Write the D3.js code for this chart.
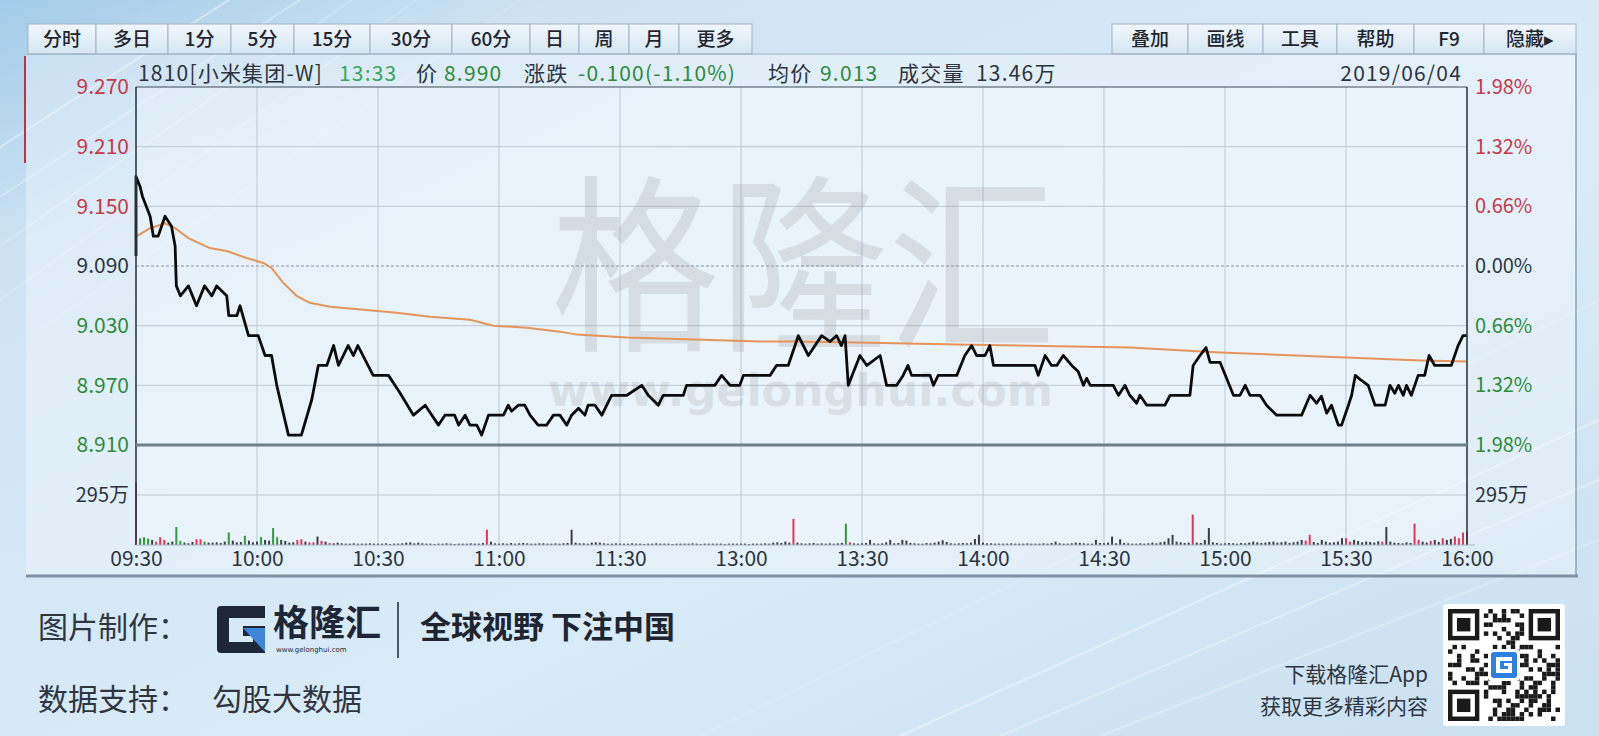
<!DOCTYPE html>
<html><head><meta charset="utf-8">
<script src="https://cdn.jsdelivr.net/npm/d3@7/dist/d3.min.js"></script>
<style>html,body{margin:0;padding:0;overflow:hidden;background:#d6e8f4}svg{display:block}</style>
</head><body><svg id="c" width="1599" height="736"></svg>
<script>
// ---------------- DATA ----------------
const prevClose = 9.09;
const priceTicks = [9.27, 9.21, 9.15, 9.09, 9.03, 8.97, 8.91];
const pctLabels = ["1.98%","1.32%","0.66%","0.00%","0.66%","1.32%","1.98%"];
const timeLabels = ["09:30","10:00","10:30","11:00","11:30","13:00","13:30","14:00","14:30","15:00","15:30","16:00"];
const timeTickMinutes = [0,30,60,90,120,150,180,210,240,270,300,330];
const volTicks = [295];
const leftButtons = ["分时","多日","1分","5分","15分","30分","60分","日","周","月","更多"];
const rightButtons = ["叠加","画线","工具","帮助","F9","隐藏▸"];

// minute index (0 = 09:30, 330 = 16:00, lunch removed) and price
const priceMinutes = [0,0,1,1.6,3.5,4.3,5.5,7.2,8.8,9.7,10,11,13,15,17,18.8,20,22.5,23,25,25.8,27.9,30.3,32,33.6,34.9,37.8,41,43.6,45.2,47.3,49,50.2,52.6,53.9,55,58.8,62.6,65.5,68.8,71.7,75,76.6,79,80,81.6,82.8,84.5,85.7,87.4,91.1,92.3,93.1,94.8,96.4,97.7,99.7,101.8,103.5,105.1,106.8,108,109.7,111.3,112.1,113.8,115.5,117.9,121.7,125.4,127,129.5,130.7,135.7,136.5,143.5,145.2,147.3,149.7,150.6,157.2,158.8,161.7,163.4,164.2,166.7,170,172.1,173.7,174.9,175.8,176.6,179.5,181.2,184.5,186.1,188.6,190.2,191.4,192.3,196.9,197.7,198.9,203.5,205.5,207.2,208.4,210.5,211.7,212.6,222.9,223.7,225.4,227,228.3,229.9,232,233.6,234.9,235.7,236.6,242.3,243.6,245.2,246.4,248.1,248.9,250.6,255.1,256.4,261.3,262.1,263.8,265.3,266.3,268.8,272.1,273.7,275,276.2,278.7,280.3,282.8,289,291.1,292.7,293.9,295.2,296.4,298.1,298.9,300.6,301.4,302.3,303.5,305.5,307.2,309.7,310.9,312.1,313,314.2,315,316.2,317.9,319.5,320.6,322,326.1,327.8,329,330];
const priceValues = [9.10,9.18,9.17,9.16,9.14,9.12,9.12,9.14,9.13,9.11,9.07,9.06,9.07,9.05,9.07,9.06,9.07,9.06,9.04,9.04,9.05,9.02,9.02,9.00,9.00,8.97,8.92,8.92,8.956,8.99,8.99,9.01,8.99,9.01,9.00,9.01,8.98,8.98,8.962,8.94,8.95,8.93,8.94,8.94,8.93,8.94,8.93,8.93,8.92,8.94,8.94,8.95,8.944,8.95,8.95,8.94,8.93,8.93,8.94,8.94,8.93,8.94,8.947,8.94,8.95,8.95,8.94,8.96,8.96,8.97,8.96,8.95,8.96,8.96,8.97,8.97,8.98,8.97,8.97,8.98,8.98,8.99,8.99,9.01,9.02,9.00,9.02,9.014,9.02,9.01,9.02,8.97,9.00,8.99,9.00,8.97,8.97,8.98,8.99,8.98,8.98,8.97,8.98,8.98,9.00,9.01,9.00,9.00,9.01,8.99,8.99,8.98,9.00,8.99,8.99,9.00,8.99,8.984,8.97,8.977,8.97,8.97,8.96,8.97,8.96,8.952,8.96,8.95,8.95,8.96,8.96,8.99,9.00,9.008,8.993,8.993,8.96,8.96,8.97,8.96,8.96,8.95,8.94,8.94,8.96,8.952,8.959,8.942,8.95,8.93,8.93,8.95,8.96,8.98,8.976,8.97,8.95,8.95,8.97,8.962,8.97,8.96,8.97,8.96,8.98,8.98,9.00,8.99,8.99,9.01,9.02,9.02];

const avgMinutes = [0.2,3.5,7.2,9.7,13,18.3,22.5,27.4,31.6,33.6,36.5,39.8,43.1,48.1,56.4,64.6,72.9,82.8,88.6,96.9,105.1,109.3,121.7,138.2,154.7,163,178.7,203.5,246.4,268.8,293.6,318.6,330];
const avgValues = [9.120,9.128,9.133,9.128,9.118,9.108,9.105,9.098,9.093,9.088,9.073,9.060,9.053,9.049,9.046,9.043,9.039,9.036,9.030,9.028,9.024,9.021,9.018,9.016,9.014,9.014,9.013,9.011,9.008,9.003,8.999,8.995,8.994];

// per-minute volume, 万 shares (index = minute)
const volumes = [
370,40,46,38,30,20,46,30,14,20,106,24,14,10,18,34,34,20,14,14,16,12,20,74,26,16,18,54,26,16,
20,46,30,26,100,46,30,24,14,16,30,34,20,16,16,50,24,20,12,10,14,10,8,8,10,8,8,8,10,8,
8,8,10,6,8,8,10,14,16,10,14,10,8,8,6,8,8,10,8,6,8,8,8,10,8,8,12,90,20,10,
8,10,8,12,8,10,12,10,8,8,10,10,8,8,10,8,10,12,90,14,10,10,8,14,16,14,10,8,8,10,
8,8,8,10,8,8,6,8,8,10,8,8,8,6,8,8,8,8,10,8,6,8,8,8,8,8,6,8,8,8,
8,8,6,8,8,8,10,8,14,16,12,20,14,154,14,10,8,10,12,8,10,8,10,8,10,12,126,16,10,8,
10,12,30,10,8,10,16,30,10,12,30,26,12,10,8,8,12,10,14,20,28,18,10,8,10,12,10,14,36,60,
14,10,10,8,8,8,8,10,8,8,8,10,8,8,8,10,8,12,20,10,8,8,10,14,12,10,8,8,30,12,
10,14,50,10,34,12,10,8,8,10,8,10,14,10,16,20,40,60,20,16,12,14,180,14,12,30,100,16,12,8,
10,12,10,8,12,10,14,20,16,12,14,18,20,14,16,20,12,16,20,30,26,60,18,12,30,20,14,16,20,40,
40,20,30,24,16,20,18,14,22,20,106,20,14,12,10,16,12,126,30,20,14,24,30,18,40,30,36,50,40,74,
80];
const volUpMinutes = [0,5,6,7,15,16,40,41,43,44,46,48,87,163,177,262,290,291,300,301,309,317,318,321,324,327,328,329,330];
const volDownMinutes = [1,2,3,10,11,17,23,27,31,34,35,176];

const infoParts = [
  {t:"1810[小米集团-W]", c:"#2d3440", x:138},
  {t:"13:33", c:"#3aa55a", x:339},
  {t:"价", c:"#2d3440", x:416},
  {t:"8.990", c:"#2c8a3c", x:444},
  {t:"涨跌", c:"#2d3440", x:524},
  {t:"-0.100(-1.10%)", c:"#2c8a3c", x:578},
  {t:"均价", c:"#2d3440", x:768},
  {t:"9.013", c:"#2c8a3c", x:820},
  {t:"成交量", c:"#2d3440", x:898},
  {t:"13.46万", c:"#2d3440", x:976}
];
const dateText = "2019/06/04";

// ---------------- LAYOUT ----------------
const W = 1599, H = 736;
const pl = 136, pr = 1467, pt = 87, pb = 445, vb = 545;
const CJK = "'Noto Sans CJK SC','Noto Sans',sans-serif";
const RED = "#c4384a", GREEN = "#2e8a3a", DARK = "#2d3440";

const svg = d3.select("#c");
const defs = svg.append("defs");
const bg = defs.append("linearGradient").attr("id","bg").attr("x1","0").attr("y1","0").attr("x2","1").attr("y2","1");
bg.append("stop").attr("offset","0").attr("stop-color","#a3cbe9");
bg.append("stop").attr("offset","0.18").attr("stop-color","#cfe4f3");
bg.append("stop").attr("offset","0.6").attr("stop-color","#d9ebf7");
bg.append("stop").attr("offset","1").attr("stop-color","#c9e0f1");
const btn = defs.append("linearGradient").attr("id","btn").attr("x1","0").attr("y1","0").attr("x2","0").attr("y2","1");
btn.append("stop").attr("offset","0").attr("stop-color","#f1f7fb");
btn.append("stop").attr("offset","1").attr("stop-color","#d6e6f2");

svg.append("rect").attr("width",W).attr("height",H).attr("fill","url(#bg)");
// decorative streaks
const streaks = svg.append("g").attr("stroke","#ffffff").attr("fill","none");
[[-20,160,260,-20,0.4],[-20,210,330,-20,0.3],[-20,260,380,-20,0.22],[0,300,430,-10,0.16],[40,330,520,0,0.12],
 [900,736,1599,420,0.4],[1000,736,1599,480,0.32],[1100,736,1599,540,0.26],[700,736,1599,300,0.16]].forEach(s=>{
  streaks.append("line").attr("x1",s[0]).attr("y1",s[1]).attr("x2",s[2]).attr("y2",s[3]).attr("stroke-width",2).attr("opacity",s[4]);
});

// panel
svg.append("rect").attr("x",26).attr("y",53).attr("width",1550).attr("height",523)
  .attr("fill","#ffffff").attr("opacity",0.32);
svg.append("rect").attr("x",pl).attr("y",pt).attr("width",pr-pl).attr("height",vb-pt)
  .attr("fill","#ffffff").attr("opacity",0.25);
svg.append("line").attr("x1",1576).attr("x2",1576).attr("y1",53).attr("y2",576).attr("stroke","#8fa2b4").attr("stroke-width",1.5);
svg.append("line").attr("x1",26).attr("x2",1578).attr("y1",576).attr("y2",576).attr("stroke","#7f91a3").attr("stroke-width",3);
svg.append("line").attr("x1",25).attr("x2",25).attr("y1",56).attr("y2",163).attr("stroke","#c23045").attr("stroke-width",2);

// toolbar
const leftEdges = [28,96,168,231,294,370,452,530,579,629,679,752];
const rightEdges = [1112,1188,1263,1337,1414,1484,1576];
const tb = svg.append("g");
function drawButtons(labels, edges){
  labels.forEach((lab,i)=>{
    const x0 = edges[i], x1 = edges[i+1];
    tb.append("rect").attr("x",x0).attr("y",24).attr("width",x1-x0).attr("height",30)
      .attr("fill","url(#btn)").attr("stroke","#a3b4c4").attr("stroke-width",1);
    tb.append("text").attr("x",(x0+x1)/2).attr("y",46).attr("text-anchor","middle")
      .attr("font-family",CJK).attr("font-size",19).attr("font-weight",500).attr("fill","#1f2630").text(lab);
  });
}
drawButtons(leftButtons, leftEdges);
drawButtons(rightButtons, rightEdges);
svg.append("line").attr("x1",26).attr("x2",1576).attr("y1",54).attr("y2",54).attr("stroke","#9fb0c0");

// info line
const info = svg.append("g").attr("font-family",CJK).attr("font-size",21).attr("letter-spacing",1.2);
infoParts.forEach(p=>info.append("text").attr("x",p.x).attr("y",81).attr("fill",p.c).text(p.t));
info.append("text").attr("x",1462).attr("y",81).attr("text-anchor","end").attr("fill",DARK).text(dateText);

// scales
const x = d3.scaleLinear().domain([0,330]).range([pl,pr]);
const y = d3.scaleLinear().domain([8.91,9.27]).range([pb,pt]);
const yv = d3.scaleLinear().domain([0,590]).range([vb,pb]);
const labColor = v => Math.abs(v-prevClose)<1e-6 ? DARK : (v>prevClose ? RED : GREEN);

// grid
const grid = svg.append("g");
timeTickMinutes.forEach((m,i)=>{
  if(i===0||i===timeTickMinutes.length-1) return;
  grid.append("line").attr("x1",x(m)).attr("x2",x(m)).attr("y1",pt).attr("y2",vb)
    .attr("stroke","#bcc8d3").attr("stroke-width",1);
});
priceTicks.forEach(v=>{
  if(v===9.27||v===8.91) return;
  grid.append("line").attr("x1",pl).attr("x2",pr).attr("y1",y(v)).attr("y2",y(v))
    .attr("stroke", v===prevClose?"#8a96a2":"#bcc8d3").attr("stroke-width",1)
    .attr("stroke-dasharray", v===prevClose?"3,2":null);
});
volTicks.forEach(v=>{
  grid.append("line").attr("x1",pl).attr("x2",pr).attr("y1",yv(v)).attr("y2",yv(v))
    .attr("stroke","#bcc8d3").attr("stroke-width",1);
});

// watermark
const wm = svg.append("g").attr("font-family",CJK);
wm.append("text").attr("x",551).attr("y",336).attr("font-size",190).attr("fill","#8a8a8a").attr("opacity",0.2)
  .attr("textLength",505).attr("lengthAdjust","spacingAndGlyphs").text("格隆汇");
wm.append("text").attr("x",548).attr("y",406).attr("font-size",44).attr("font-weight","bold").attr("fill","#8a8a8a").attr("opacity",0.18)
  .attr("font-family","'DejaVu Sans',sans-serif")
  .attr("textLength",505).attr("lengthAdjust","spacingAndGlyphs").text("www.gelonghui.com");

// volume bars
const upSet = new Set(volUpMinutes), downSet = new Set(volDownMinutes);
svg.append("g").selectAll("rect").data(volumes).join("rect")
  .attr("x",(d,i)=>x(i)-1).attr("width",2)
  .attr("y",d=>yv(d)).attr("height",d=>vb-yv(d))
  .attr("fill",(d,i)=>upSet.has(i)?"#e0365a":(downSet.has(i)?"#2f9a3a":"#3a3f46"));

// avg line + price line
const avgData = avgMinutes.map((m,i)=>[m,avgValues[i]]);
const priceData = priceMinutes.map((m,i)=>[m,priceValues[i]]);
const line = d3.line().x(d=>x(d[0])).y(d=>y(d[1]));
svg.append("path").datum(avgData).attr("d",line).attr("fill","none").attr("stroke","#e3955a").attr("stroke-width",2);
svg.append("path").datum(priceData).attr("d",line).attr("fill","none").attr("stroke","#0c0c0c")
  .attr("stroke-width",2.8).attr("stroke-linejoin","round");

// borders
const bd = svg.append("g");
bd.append("line").attr("x1",pl).attr("x2",pr).attr("y1",pt).attr("y2",pt).attr("stroke","#3e4c5a").attr("stroke-width",1.2);
bd.append("line").attr("x1",pl).attr("x2",pl).attr("y1",pt).attr("y2",vb).attr("stroke","#2e3a46").attr("stroke-width",1.6);
bd.append("line").attr("x1",pr).attr("x2",pr).attr("y1",pt).attr("y2",vb).attr("stroke","#2e3a46").attr("stroke-width",1.6);
bd.append("line").attr("x1",pl).attr("x2",pr).attr("y1",pb).attr("y2",pb).attr("stroke","#6f7e8d").attr("stroke-width",3);
bd.append("line").attr("x1",pl).attr("x2",pr+8).attr("y1",vb).attr("y2",vb).attr("stroke","#a6b4c2").attr("stroke-width",1.2);

// axes
function styleAxis(g, fs){ g.select(".domain").remove(); g.selectAll("text").attr("font-family",CJK).attr("font-size",fs); }
const axL = svg.append("g").attr("transform",`translate(${pl},0)`)
  .call(d3.axisLeft(y).tickValues(priceTicks).tickFormat(d3.format(".3f")).tickSize(0).tickPadding(7));
styleAxis(axL,21); axL.selectAll("text").attr("fill",d=>labColor(d));
const axR = svg.append("g").attr("transform",`translate(${pr},0)`)
  .call(d3.axisRight(y).tickValues(priceTicks).tickFormat((d,i)=>pctLabels[i]).tickSize(0).tickPadding(8));
styleAxis(axR,20); axR.selectAll("text").attr("fill",d=>labColor(d));
const vL = svg.append("g").attr("transform",`translate(${pl},0)`)
  .call(d3.axisLeft(yv).tickValues(volTicks).tickFormat(d=>d+"万").tickSize(0).tickPadding(7));
styleAxis(vL,20); vL.selectAll("text").attr("fill",DARK);
const vR = svg.append("g").attr("transform",`translate(${pr},0)`)
  .call(d3.axisRight(yv).tickValues(volTicks).tickFormat(d=>d+"万").tickSize(0).tickPadding(8));
styleAxis(vR,20); vR.selectAll("text").attr("fill",DARK);
const axB = svg.append("g").attr("transform",`translate(0,${vb})`)
  .call(d3.axisBottom(x).tickValues(timeTickMinutes).tickFormat((d,i)=>timeLabels[i]).tickSize(0).tickPadding(6));
styleAxis(axB,21); axB.selectAll("text").attr("fill",DARK);

// footer
const ft = svg.append("g").attr("font-family",CJK);
ft.append("text").attr("x",38).attr("y",638).attr("font-size",30).attr("fill","#30363f").text("图片制作：");
ft.append("text").attr("x",38).attr("y",710).attr("font-size",30).attr("fill","#30363f").text("数据支持：");
ft.append("text").attr("x",212).attr("y",710).attr("font-size",30).attr("fill","#30363f").text("勾股大数据");
// logo
const lg = ft.append("g").attr("transform","translate(217,606)");
lg.append("path").attr("d","M0,4 Q0,0 4,0 L48,0 L48,12 L12,12 L12,36 L36,36 L36,30 L26,30 L26,20 L48,20 L48,47 L4,47 Q0,47 0,43 Z").attr("fill","#1d2737");
lg.append("path").attr("d","M26,22 L48,22 L48,46 Z").attr("fill","#3f86d8");
ft.append("text").attr("x",273).attr("y",636).attr("font-size",36).attr("font-weight","bold").attr("fill","#1d2737").text("格隆汇");
ft.append("text").attr("x",276).attr("y",652).attr("font-size",7).attr("fill","#1d2737").attr("font-family","'DejaVu Sans',sans-serif").text("www.gelonghui.com");
ft.append("line").attr("x1",398).attr("x2",398).attr("y1",602).attr("y2",658).attr("stroke","#1d2737").attr("stroke-width",1.5);
ft.append("text").attr("x",420).attr("y",638).attr("font-size",31).attr("font-weight","bold").attr("fill","#1f2530").text("全球视野 下注中国");
ft.append("text").attr("x",1428).attr("y",682).attr("text-anchor","end").attr("font-size",21).attr("fill","#30363f").text("下载格隆汇App");
ft.append("text").attr("x",1428).attr("y",714).attr("text-anchor","end").attr("font-size",21).attr("fill","#30363f").text("获取更多精彩内容");

// QR-like decoration
const qx = 1443, qy = 604, qs = 122;
const qr = svg.append("g");
qr.append("rect").attr("x",qx).attr("y",qy).attr("width",qs).attr("height",qs).attr("rx",3).attr("fill","#ffffff");
const n = 25, m = (qs-10)/n;
for(let i=0;i<n;i++) for(let j=0;j<n;j++){
  const inFinder = (i<8&&j<8)||(i<8&&j>=n-8)||(i>=n-8&&j<8);
  if(inFinder) continue;
  if(((i*7 + j*13 + (i*j)%5) % 3)===0 || ((i+2*j)%7===0))
    qr.append("rect").attr("x",qx+5+j*m).attr("y",qy+5+i*m).attr("width",m).attr("height",m).attr("fill","#1a1a1a");
}
[[0,0],[0,n-7],[n-7,0]].forEach(([i,j])=>{
  qr.append("rect").attr("x",qx+5+j*m+m/2).attr("y",qy+5+i*m+m/2).attr("width",6*m).attr("height",6*m).attr("fill","none").attr("stroke","#1a1a1a").attr("stroke-width",m);
  qr.append("rect").attr("x",qx+5+(j+2)*m).attr("y",qy+5+(i+2)*m).attr("width",3*m).attr("height",3*m).attr("fill","#1a1a1a");
});
qr.append("rect").attr("x",qx+qs/2-16).attr("y",qy+qs/2-16).attr("width",32).attr("height",32).attr("rx",4).attr("fill","#ffffff");
qr.append("rect").attr("x",qx+qs/2-13).attr("y",qy+qs/2-13).attr("width",26).attr("height",26).attr("rx",3).attr("fill","#2f7fe0");
qr.append("path").attr("transform",`translate(${qx+qs/2-8},${qy+qs/2-8})`)
  .attr("d","M0,0 L16,0 L16,4 L4,4 L4,12 L12,12 L12,9 L8,9 L8,6 L16,6 L16,16 L0,16 Z").attr("fill","#ffffff");
</script></body></html>
